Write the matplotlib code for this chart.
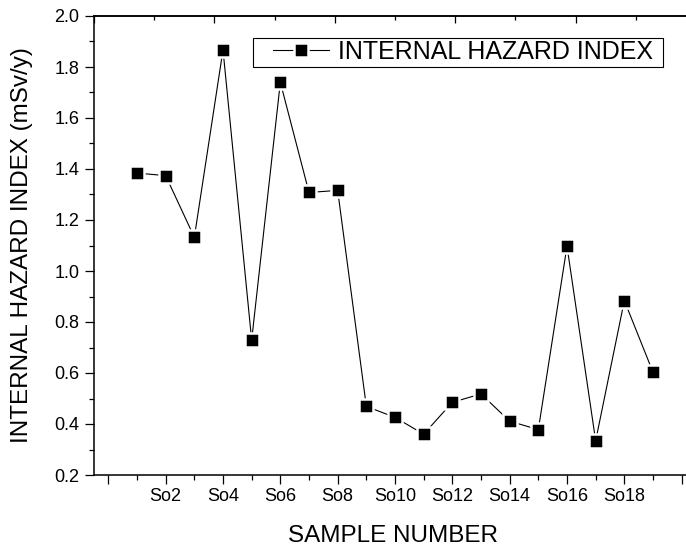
import matplotlib
matplotlib.use('Agg')
import matplotlib.pyplot as plt
from matplotlib.ticker import MultipleLocator
from matplotlib.patches import Rectangle

plt.rcParams['font.family'] = ['Liberation Sans', 'DejaVu Sans']

# ---- data ----
sample_no = list(range(1, 20))
hazard_index = [1.384, 1.374, 1.132, 1.867, 0.729, 1.740, 1.308, 1.316, 0.469,
                0.426, 0.360, 0.485, 0.518, 0.411, 0.378, 1.097, 0.334, 0.884, 0.603]
tick_positions = [2, 4, 6, 8, 10, 12, 14, 16, 18]
tick_labels = ['So2', 'So4', 'So6', 'So8', 'So10', 'So12', 'So14', 'So16', 'So18']
series_label = 'INTERNAL HAZARD INDEX'
x_title = 'SAMPLE NUMBER'
y_title = 'INTERNAL HAZARD INDEX (mSv/y)'

W, H = 686, 548
fig = plt.figure(figsize=(W / 100, H / 100), dpi=100)
ax = fig.add_axes([94 / W, 1 - 475 / H, 602 / W, (475 - 16) / H])

ax.plot(sample_no, hazard_index, color='black', lw=0.8, marker='s',
        ms=9.4, mfc='black', mec='white', mew=1.8, label=series_label)

ax.set_xlim(-0.5, 20.5)
ax.set_ylim(0.2, 2.0)

ax.set_xticks([0] + tick_positions + [20])
ax.set_xticklabels([''] + tick_labels + [''])
ax.xaxis.set_minor_locator(MultipleLocator(1))
ax.yaxis.set_major_locator(MultipleLocator(0.2))
ax.yaxis.set_minor_locator(MultipleLocator(0.1))
ax.yaxis.set_major_formatter(matplotlib.ticker.FormatStrFormatter('%.1f'))

ax.tick_params(axis='both', which='major', direction='out', length=6.5,
               width=0.9, labelsize=13, color='black')
ax.tick_params(axis='both', which='minor', direction='out', length=3.5,
               width=0.9, color='black')
ax.tick_params(axis='x', which='major', pad=3)
ax.tick_params(axis='y', which='major', pad=4)

for s in ['left', 'bottom', 'top']:
    ax.spines[s].set_linewidth(1.1)
ax.spines['right'].set_visible(False)

sec = ax.secondary_xaxis('top', functions=(lambda x: (x + 0.5) / 2.1,
                                           lambda t: t * 2.1 - 0.5))
sec.xaxis.set_major_locator(MultipleLocator(2))
sec.xaxis.set_minor_locator(MultipleLocator(1))
sec.tick_params(which='major', direction='in', length=5, width=0.9, labeltop=False)
sec.tick_params(which='minor', direction='in', length=3, width=0.9)
sec.spines['top'].set_linewidth(1.1)

ax.set_xlabel(x_title, fontsize=17.5)
ax.xaxis.set_label_coords(0.497, -0.108)
ax.set_ylabel(y_title, fontsize=17.5)
ax.yaxis.set_label_coords(-0.101, 0.5)

leg = ax.legend(loc='upper right', bbox_to_anchor=(653 / W, 1 - 40 / H),
                bbox_transform=fig.transFigure, frameon=False, fontsize=18,
                handlelength=2.25, handletextpad=0.36, borderpad=0.0,
                borderaxespad=0)

fig.canvas.draw()
bb = leg.get_window_extent()
x0 = bb.x0 - 20
x1 = bb.x1 + 10
y0 = bb.y0 - 3
y1 = bb.y1 + 2
rect = Rectangle((x0 / W, y0 / H), (x1 - x0) / W, (y1 - y0) / H,
                 transform=fig.transFigure, fill=False, edgecolor='black',
                 lw=0.8, zorder=5)
fig.patches.append(rect)

fig.savefig('out.png', dpi=100)
